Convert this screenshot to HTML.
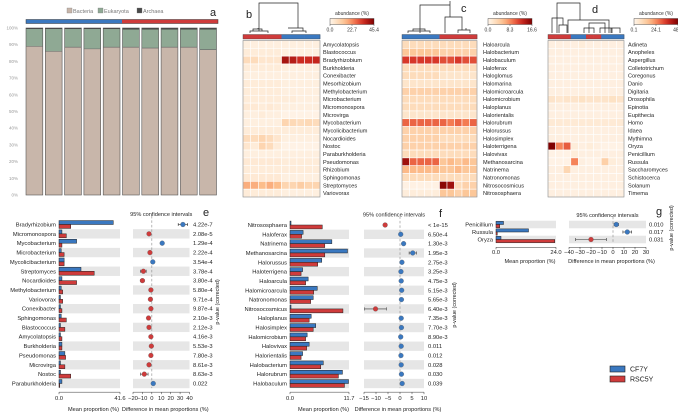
<!DOCTYPE html>
<html><head><meta charset="utf-8"><style>
body{margin:0;background:#fff}
svg{display:block;font-family:"Liberation Sans","DejaVu Sans",sans-serif}
</style></head><body>
<svg id="fig" width="678" height="416" viewBox="0 0 678 416" xmlns="http://www.w3.org/2000/svg"></svg>
<script>
// ---------- DATA ----------
const aBacteria=[89,86,88.5,87.5,88.5,88.5,88,88.5,88.5,87];
const aArchaea=[0.6,0.6,0.6,0.6,0.6,0.9,0.9,0.9,0.9,0.9];
const aTicks=["0%","10%","20%","30%","40%","50%","60%","70%","80%","90%","100%"];

const bRows=["Amycolatopsis","Blastococcus","Bradyrhizobium","Burkholderia","Conexibacter","Mesorhizobium","Methylobacterium","Microbacterium","Micromonospora","Microvirga","Mycobacterium","Mycolicibacterium","Nocardioides","Nostoc","Paraburkholderia","Pseudomonas","Rhizobium","Sphingomonas","Streptomyces","Variovorax"];
const bMax=45.4, bTicks=["0.0","22.7","45.4"];
const bVals=[
[2,2,2,2,2,2,2,2,2,2],[3,3,3,3,3,2,2,2,2,2],[8,8,5,5,5,40,38,35,35,36],[3,3,3,3,3,2,2,2,2,2],[2,2,2,2,2,2,2,2,2,2],
[3,3,3,3,3,2,2,2,2,2],[3,3,3,3,3,2,2,2,2,2],[3,3,3,3,3,3,3,2,2,2],[4,4,3,4,3,2,2,2,2,2],[2,2,3,2,2,1,1,1,1,1],
[2,2,2,2,2,10,9,8,9,8],[3,3,3,3,3,3,3,3,3,3],[8,8,10,8,5,2,2,2,2,2],[5,3,10,8,3,1,1,1,1,1],[2,2,2,2,2,2,2,2,2,2],
[4,4,4,4,4,3,3,3,3,3],[3,3,3,3,3,3,3,3,3,3],[4,4,4,4,4,2,2,2,2,2],[18,18,16,18,16,10,10,12,10,10],[3,3,3,3,3,2,2,2,2,2]];
const bGroups=["R","R","R","R","R","B","B","B","B","B"];

const cRows=["Haloarcula","Halobacterium","Halobaculum","Haloferax","Haloglomus","Halomarina","Halomicroarcula","Halomicrobium","Haloplanus","Halorientalis","Halorubrum","Halorussus","Halosimplex","Haloterrigena","Halovivax","Methanosarcina","Natrinema","Natronomonas","Nitrosocosmicus","Nitrososphaera"];
const cMax=16.6, cTicks=["0.0","8.3","16.6"];
const cVals=[
[3,3,3,3,3,3,3,3,3,3],[5,5,5,5,5,4,4,4,4,4],[12,12,12,12,12,11,11,12,11,11],[3,3,3,3,3,3,3,3,3,3],[3,3,3,3,3,2,2,2,2,2],
[2,2,2,2,2,2,2,2,2,2],[4,4,4,4,4,4,4,4,4,4],[3,3,3,3,3,3,3,3,3,3],[3,3,3,3,3,3,3,3,3,3],[2,2,2,2,2,2,2,2,2,2],
[10,10,10,10,10,10,9,10,9,10],[4,4,4,4,4,4,4,4,4,4],[4,4,4,4,4,3,3,3,3,3],[4,4,4,4,4,4,4,4,4,4],[3,3,3,3,3,3,3,3,3,3],
[15,10,10,10,10,5,6,5,6,5],[6,6,6,6,6,5,5,6,5,5],[3,3,3,3,3,3,3,3,3,3],[0.5,0.5,0.5,0.5,0.5,16,15,3,4,4],[1,1,1,1,1,5,5,4,5,5]];
const cGroups=["B","B","B","B","B","R","R","R","R","R"];

const dRows=["Adineta","Anopheles","Aspergillus","Colletotrichum","Coregonus","Danio","Digitaria","Drosophila","Epinotia","Eupithecia","Homo","Idaea","Mythimna","Oryza","Penicillium","Russula","Saccharomyces","Schistocerca","Solanum","Timema"];
const dMax=48.1, dTicks=["0.1","24.1","48.1"];
const dVals=[
[2,2,2,2,3,2,2,2,2,2],[2,2,2,2,2,2,2,2,2,2],[2,2,2,2,2,2,2,2,2,2],[2,2,2,2,2,2,2,2,2,2],[2,2,2,2,2,2,2,2,2,2],
[2,2,2,2,2,2,2,2,2,2],[2,2,2,2,2,2,2,2,2,2],[6,5,6,6,7,6,6,6,7,6],[2,2,2,2,2,2,2,2,2,2],[2,2,2,2,2,2,2,2,2,2],
[4,4,4,4,4,4,4,4,4,4],[2,2,2,2,2,2,2,2,2,2],[2,2,2,2,2,2,2,2,2,2],[48,25,30,3,2,3,2,1,1,1],[1,1,1,3,2,2,2,2,2,2],
[1,1,1,25,2,1,1,12,3,2],[2,2,10,2,2,2,2,2,2,2],[2,2,2,2,2,2,2,2,2,2],[2,2,2,2,2,2,2,2,2,2],[2,2,2,2,2,2,2,2,2,2]];
const dGroups=["R","R","R","B","B","R","R","B","B","B"];

const eRows=["Bradyrhizobium","Micromonospora","Mycobacterium","Microbacterium","Mycolicibacterium","Streptomyces","Nocardioides","Methylobacterium","Variovorax","Conexibacter","Sphingomonas","Blastococcus","Amycolatopsis","Burkholderia","Pseudomonas","Microvirga","Nostoc","Paraburkholderia"];
const eBlue=[37,2,12,1.5,3.5,15,2,1.5,1,1,1.5,1,1,2,4,1,1,2];
const eRed=[8,5,2,3.5,3.5,24,12,2.5,2.5,2,5,4,2,2,4.5,4,8,0.5];
const eDiff=[33,-3,11,-2,1,-9,-10,-1,-1.5,-1,-3.5,-3,-1,-0.5,-1,-3,-8,1.5];
const eCI=[5,1,1.5,1,1,3,2,1,1,1,1,1,1,1,1,1.5,4,1];
const eP=["4.22e-7","2.08e-5","1.29e-4","2.22e-4","3.54e-4","3.78e-4","3.80e-4","5.80e-4","9.71e-4","9.87e-4","2.10e-3","2.12e-3","4.16e-3","5.53e-3","7.80e-3","8.61e-3","8.63e-3","0.022"];
const eMax=41.6, eDmin=-20, eDmax=40, eDTicks=[-20,-10,0,10,20,30,40];

const fRows=["Nitrososphaera","Haloferax","Natrinema","Methanosarcina","Halorussus","Haloterrigena","Haloarcula","Halomicroarcula","Natronomonas","Nitrosocosmicus","Haloplanus","Halosimplex","Halomicrobium","Halovivax","Halorientalis","Halobacterium","Halorubrum","Halobaculum"];
const fBlue=[0.2,2.6,8.3,11.4,6.3,2.5,3.6,5.4,4.6,0.2,4.2,5.1,3.4,3.8,2.5,6.6,10.4,11.6];
const fRed=[6.4,2.3,6.9,6.9,5.5,2.2,3.1,4.7,4.1,10.5,3.8,4.6,3.1,3.3,2.2,6.1,9.6,10.8];
const fDiff=[-6.2,0.3,1.5,5.3,0.8,0.4,0.5,0.7,0.6,-10.2,0.5,0.6,0.3,0.5,0.4,0.5,0.6,0.9];
const fCI=[0.5,0.3,0.5,1.5,0.4,0.3,0.3,0.3,0.3,4.5,0.3,0.3,0.3,0.3,0.3,0.3,0.4,0.5];
const fP=["< 1e-15","6.50e-4","1.30e-3","1.95e-3","2.75e-3","3.25e-3","4.75e-3","5.15e-3","5.65e-3","6.40e-3","7.35e-3","7.70e-3","8.90e-3","0.011","0.012","0.028","0.030","0.039"];
const fMax=11.7, fDmin=-15, fDmax=10, fDTicks=[-15,-10,-5,0,5,10];

const gRows=["Penicillium","Russula","Oryza"];
const gBlue=[3,13,2];
const gRed=[1.5,0.5,23.5];
const gDiff=[3,13,-20];
const gCI=[2,4,14];
const gP=["0.010","0.017","0.031"];
const gMax=24.0, gDmin=-40, gDmax=30, gDTicks=[-40,-30,-20,-10,0,10,20,30];

// ---------- HELPERS ----------
const NS="http://www.w3.org/2000/svg";
const svg=document.getElementById('fig');
const BLUE="#3a78c0", RED="#cf3b3b";
function mk(tag,attrs,parent,text){const e=document.createElementNS(NS,tag);for(const k in attrs)e.setAttribute(k,attrs[k]);if(text!==undefined)e.textContent=text;(parent||svg).appendChild(e);return e;}
function grp(name){const g=document.createElementNS(NS,'g');


svg.appendChild(g);return g;}
function lerp(a,b,t){return a+(b-a)*t}
const stops=[[0,[255,245,235]],[0.15,[253,225,195]],[0.35,[252,190,140]],[0.55,[244,120,80]],[0.75,[210,45,35]],[1,[127,0,0]]];
function cmap(t){t=Math.max(0,Math.min(1,t));for(let i=1;i<stops.length;i++){if(t<=stops[i][0]){const a=stops[i-1],b=stops[i];const u=(t-a[0])/(b[0]-a[0]);return `rgb(${Math.round(lerp(a[1][0],b[1][0],u))},${Math.round(lerp(a[1][1],b[1][1],u))},${Math.round(lerp(a[1][2],b[1][2],u))})`;}}return 'rgb(127,0,0)';}

// ---------- PANEL A ----------
(function(){
const g=grp('panel-a-stacked-bars');
const x0=25,x1=218,yTop=28,yBot=195;
const y=v=>yBot-(v/100)*(yBot-yTop);
mk('text',{x:210,y:16,'font-size':11,fill:'#222'},g,'a');
const leg=[["Bacteria","#c8b6aa",67],["Eukaryota","#8fa994",98],["Archaea","#4a4a4a",137]];
leg.forEach(l=>{const r=mk('rect',{x:l[2],y:8,width:5,height:5,fill:l[1],stroke:'#777','stroke-width':0.3},g);


mk('text',{x:l[2]+6,y:13,'font-size':5.5,fill:'#777'},g,l[0]);});
mk('rect',{x:26,y:19.5,width:96,height:4,fill:BLUE},g);
mk('rect',{x:122,y:19.5,width:96,height:4,fill:RED},g);
mk('rect',{x:26,y:19.5,width:192,height:4,fill:'none',stroke:'#333','stroke-width':0.5},g);
aTicks.forEach((t,i)=>{mk('text',{x:18,y:y(i*10)+1.5,'font-size':4.5,fill:'#999','text-anchor':'end'},g,t);});
const n=aBacteria.length, step=(x1-x0)/n, w=step-2.5;
aBacteria.forEach((b,i)=>{
 const bx=x0+i*step+1; const ar=aArchaea[i]; const eu=100-b-ar;
 const r1=mk('rect',{x:bx,y:y(b),width:w,height:y(0)-y(b),fill:'#c8b6aa'},g);
 
 
 const r2=mk('rect',{x:bx,y:y(b+eu),width:w,height:y(b)-y(b+eu),fill:'#8fa994'},g);
 
 
 mk('rect',{x:bx,y:y(100),width:w,height:y(b+eu)-y(100),fill:'#444'},g);
 mk('rect',{x:bx,y:y(100),width:w,height:y(0)-y(100),fill:'none',stroke:'#555','stroke-width':0.6},g);
 mk('line',{x1:bx,x2:bx+w,y1:y(b),y2:y(b),stroke:'#666','stroke-width':0.6},g);
});
})();

// ---------- HEATMAPS ----------
function heatmap(name,letter,x0,x1,labelX,cbX,rows,vals,max,ticks,groups,dendro){
 const g=grp(name);
 const yTop=40.5,yBot=197, n=vals[0].length;
 const cw=(x1-x0)/n, ch=(yBot-yTop)/rows.length;
 mk('path',{d:dendro,fill:'none',stroke:'#222','stroke-width':0.7},g);
 mk('text',{x:letter[1],y:letter[2],'font-size':11,fill:'#222'},g,letter[0]);
 groups.forEach((c,i)=>{mk('rect',{x:x0+i*cw,y:34.5,width:cw+0.3,height:4.5,fill:c==="R"?RED:BLUE},g);});
 mk('rect',{x:x0,y:34.5,width:x1-x0,height:4.5,fill:'none',stroke:'#444','stroke-width':0.4},g);
 rows.forEach((r,ri)=>{
  vals[ri].forEach((v,ci)=>{
   const c=mk('rect',{x:x0+ci*cw,y:yTop+ri*ch,width:cw,height:ch,fill:cmap(v/max),stroke:'#fff','stroke-width':0.6},g);
   
   
  });
  mk('text',{x:labelX,y:yTop+ri*ch+ch/2+2,'font-size':5.6,fill:'#222'},g,r);
 });
 mk('rect',{x:x0,y:yTop,width:x1-x0,height:yBot-yTop,fill:'none',stroke:'#888','stroke-width':0.6},g);
 mk('text',{x:cbX+22,y:15,'font-size':5,fill:'#333','text-anchor':'middle'},g,'abundance (%)');
 const defs=mk('defs',{},g);const lg=mk('linearGradient',{id:'grad-'+name},defs);
 for(let i=0;i<=10;i++)mk('stop',{offset:(i*10)+'%','stop-color':cmap(i/10)},lg);
 const cb=mk('rect',{x:cbX,y:18.5,width:44,height:6,fill:'url(#grad-'+name+')',stroke:'#333','stroke-width':0.4},g);
 
 
 ticks.forEach((t,i)=>{const tx=cbX+i*22;mk('line',{x1:tx,x2:tx,y1:24.5,y2:26,stroke:'#333','stroke-width':0.4},g);
  mk('text',{x:tx,y:31.5,'font-size':5,fill:'#333','text-anchor':'middle'},g,t);});
}
heatmap('panel-b-heatmap',['b',246,18],243,320,323,330,bRows,bVals,bMax,bTicks,bGroups,
 "M259,31 V3 H298 V28 M250,33 V31 H268 V33 M253,31 V29 H262 V31 M258,29 V28 M292,33 V31 H306 V33 M294,28 H303 V31 M288,28 H301");
heatmap('panel-c-heatmap',['c',461,12],402,477,483,488,cRows,cVals,cMax,cTicks,cGroups,
 "M420,33 V5 H450 V1 M450,5 V17 H445 V33 M450,17 H462 V30 M408,33 V31 H430 V33 M413,31 V29 H425 V31 M458,33 V30 H470 V33 M466,30 V28");
heatmap('panel-d-heatmap',['d',592,13],548,624,628,634,dRows,dVals,dMax,dTicks,dGroups,
 "M557,33 V3 H580 V20 M552,33 V18 H563 V25 M559,33 V25 H567 V33 M568,33 V20 H609 V33 M589,33 V23 H605 V33 M584,33 V28 H594 V33 M600,33 V28 H612 V33 M611,33 V28 H620 V33");

// ---------- BAR + DIFF PANELS ----------
function ext(name,letter,rows,blue,red,diff,ci,pv,bx0,bx1,max,dx0,dx1,dmin,dmax,dticks,pX,yc0,yc1,axisY,titleY,vlabel,stripeParity){
 const g=grp(name);
 const n=rows.length; const step=n>1?(yc1-yc0)/(n-1):7.8;
 const bx=v=>bx0+v/max*(bx1-bx0);
 const dx=v=>dx0+(v-dmin)/(dmax-dmin)*(dx1-dx0);
 const h=step*0.84;
 rows.forEach((r,i)=>{
  const yc=yc0+i*step;
  if(i%2===stripeParity){mk('rect',{x:bx0,y:yc-step/2,width:bx1-bx0,height:step,fill:'#e6e6e6'},g);
   mk('rect',{x:dx0,y:yc-step/2,width:dx1-dx0,height:step,fill:'#e6e6e6'},g);}
 });
 mk('line',{x1:dx(0),x2:dx(0),y1:yc0-step/2-4,y2:yc0+(n-1)*step+step/2,stroke:'#888','stroke-width':0.6,'stroke-dasharray':'2.5,2'},g);
 rows.forEach((r,i)=>{
  const yc=yc0+i*step;
  mk('text',{x:bx0-3,y:yc+2,'font-size':5.8,fill:'#222','text-anchor':'end'},g,r);
  const b=mk('rect',{x:bx0,y:yc-h/2,width:bx(blue[i])-bx0,height:h/2,fill:BLUE,stroke:'#222','stroke-width':0.5},g);
  
  
  const rr=mk('rect',{x:bx0,y:yc,width:bx(red[i])-bx0,height:h/2,fill:RED,stroke:'#222','stroke-width':0.5},g);
  
  
  const col=diff[i]>=0?BLUE:RED;
  mk('line',{x1:dx(diff[i]-ci[i]),x2:dx(diff[i]+ci[i]),y1:yc,y2:yc,stroke:'#333','stroke-width':0.6},g);
  mk('line',{x1:dx(diff[i]-ci[i]),x2:dx(diff[i]-ci[i]),y1:yc-1.5,y2:yc+1.5,stroke:'#333','stroke-width':0.6},g);
  mk('line',{x1:dx(diff[i]+ci[i]),x2:dx(diff[i]+ci[i]),y1:yc-1.5,y2:yc+1.5,stroke:'#333','stroke-width':0.6},g);
  const p=mk('circle',{cx:dx(diff[i]),cy:yc,r:2.4,fill:col,stroke:'#555','stroke-width':0.3},g);
  
  
  mk('text',{x:pX,y:yc+2,'font-size':5.8,fill:'#222'},g,pv[i]);
 });
 const yEnd=yc0+(n-1)*step+step/2;
 mk('line',{x1:bx0,x2:bx1,y1:yEnd+4,y2:yEnd+4,stroke:'#333','stroke-width':0.5},g);
 mk('line',{x1:dx0,x2:dx1,y1:yEnd+4,y2:yEnd+4,stroke:'#333','stroke-width':0.5},g);
 [[bx0,"0.0"],[bx1,max.toFixed(1)]].forEach(t=>{mk('line',{x1:t[0],x2:t[0],y1:yEnd+4,y2:yEnd+6,stroke:'#333','stroke-width':0.5},g);
  mk('text',{x:t[0],y:axisY,'font-size':5.8,fill:'#222','text-anchor':'middle'},g,t[1]);});
 dticks.forEach(t=>{mk('line',{x1:dx(t),x2:dx(t),y1:yEnd+4,y2:yEnd+6,stroke:'#333','stroke-width':0.5},g);
  mk('text',{x:dx(t),y:axisY,'font-size':5.8,fill:'#222','text-anchor':'middle'},g,String(t).replace('-','\u2212'));});
 mk('text',{x:(bx0+bx1)/2+4,y:titleY,'font-size':5.6,fill:'#222','text-anchor':'middle'},g,'Mean proportion (%)');
 mk('text',{x:(dx0+dx1)/2+4,y:titleY,'font-size':5.6,fill:'#222','text-anchor':'middle'},g,'Difference in mean proportions (%)');
 mk('text',{x:(dx0+dx1)/2,y:yc0-step/2-4,'font-size':5.6,fill:'#222','text-anchor':'middle'},g,'95% confidence intervals');
 mk('text',{x:letter[1],y:letter[2],'font-size':11,fill:'#222'},g,letter[0]);
 mk('text',{x:vlabel[0],y:vlabel[1],'font-size':5.4,fill:'#222','text-anchor':'middle',transform:`rotate(-90 ${vlabel[0]} ${vlabel[1]})`},g,'p-value (corrected)');
}
ext('panel-e-extended-errorbar',['e',203,216],eRows,eBlue,eRed,eDiff,eCI,eP,59,120,eMax,133,189.5,eDmin,eDmax,eDTicks,193,224.5,383.5,400,411,[219,302],1);
ext('panel-f-extended-errorbar',['f',439,217],fRows,fBlue,fRed,fDiff,fCI,fP,290,349,fMax,364,424,fDmin,fDmax,fDTicks,428,225,383.5,400,411,[456,305],1);
ext('panel-g-extended-errorbar',['g',656,215],gRows,gBlue,gRed,gDiff,gCI,gP,496,556,gMax,569,646,gDmin,gDmax,gDTicks,649,224.5,239.5,254,263,[673,228],0);

// legend
(function(){const g=grp('legend');
[["CF7Y",BLUE,366],["RSC5Y",RED,376]].forEach(l=>{
 const r=mk('rect',{x:610,y:l[2],width:15,height:6,fill:l[1],stroke:'#222','stroke-width':0.6},g);
 
 
 mk('text',{x:630,y:l[2]+5.5,'font-size':7,fill:'#222'},g,l[0]);});
})();
</script>
</body></html>
